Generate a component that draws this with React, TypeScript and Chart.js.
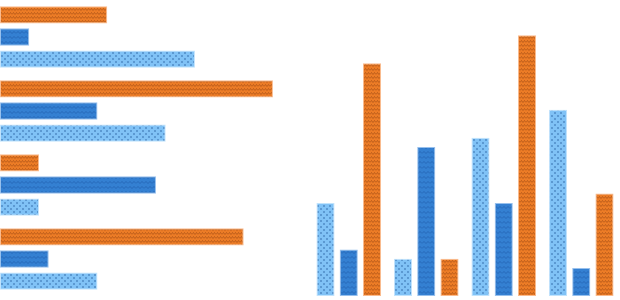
import React, { useEffect, useRef } from "react";
import { Chart, registerables } from "chart.js";

Chart.register(...registerables);

const categories = ["A", "B", "C", "D"];
const lightValues = [10, 4, 17, 20];
const blueValues = [5, 16, 10, 3];
const orangeValues = [25, 4, 28, 11];
const axisMax = 31.8;

function makePattern(kind: string): CanvasPattern | string {
  const c = document.createElement("canvas");
  const ctx = c.getContext("2d")!;
  if (kind === "orange") {
    c.width = 6; c.height = 4;
    ctx.fillStyle = "rgb(236,124,38)";
    ctx.fillRect(0, 0, 6, 4);
    ctx.strokeStyle = "rgba(150,70,20,0.5)";
    ctx.lineWidth = 1;
    ctx.beginPath();
    ctx.moveTo(0, 2.5); ctx.lineTo(1.5, 0.5); ctx.lineTo(3, 2.5); ctx.lineTo(4.5, 0.5); ctx.lineTo(6, 2.5);
    ctx.stroke();
  } else if (kind === "blue") {
    c.width = 8; c.height = 5;
    ctx.fillStyle = "rgb(52,128,210)";
    ctx.fillRect(0, 0, 8, 5);
    ctx.strokeStyle = "rgba(25,80,160,0.5)";
    ctx.lineWidth = 1;
    ctx.beginPath();
    ctx.moveTo(0, 3.5); ctx.lineTo(2, 1.5); ctx.lineTo(4, 3.5); ctx.lineTo(6, 1.5); ctx.lineTo(8, 3.5);
    ctx.stroke();
  } else {
    c.width = 6; c.height = 6;
    ctx.fillStyle = "rgb(128,194,246)";
    ctx.fillRect(0, 0, 6, 6);
    ctx.fillStyle = "rgba(75,135,195,0.7)";
    ctx.fillRect(1, 1, 2, 2);
    ctx.fillRect(4, 4, 2, 2);
  }
  return ctx.createPattern(c, "repeat") || "#888";
}

function useBarChart(ref: React.RefObject<HTMLCanvasElement | null>, horizontal: boolean) {
  useEffect(() => {
    if (!ref.current) return;
    const orange = makePattern("orange");
    const blue = makePattern("blue");
    const light = makePattern("light");
    const dsOrange = {
      label: "Orange",
      data: horizontal ? orangeValues.slice().reverse() : orangeValues,
      backgroundColor: orange,
      borderColor: "rgba(250,180,130,0.9)",
      borderWidth: 1,
      borderSkipped: false as const,
    };
    const dsBlue = {
      label: "Blue",
      data: horizontal ? blueValues.slice().reverse() : blueValues,
      backgroundColor: blue,
      borderColor: "rgba(140,185,235,0.9)",
      borderWidth: 1,
      borderSkipped: false as const,
    };
    const dsLight = {
      label: "Light",
      data: horizontal ? lightValues.slice().reverse() : lightValues,
      backgroundColor: light,
      borderColor: "rgba(190,225,252,0.95)",
      borderWidth: 1,
      borderSkipped: false as const,
    };
    const chart = new Chart(ref.current, {
      type: "bar",
      data: {
        labels: horizontal ? categories.slice().reverse() : categories,
        datasets: horizontal ? [dsOrange, dsBlue, dsLight] : [dsLight, dsBlue, dsOrange],
      },
      options: {
        indexAxis: horizontal ? "y" : "x",
        animation: false,
        responsive: true,
        maintainAspectRatio: false,
        layout: { padding: { bottom: 4 } },
        plugins: { legend: { display: false }, tooltip: { enabled: false } },
        datasets: { bar: { barPercentage: 0.78, categoryPercentage: 0.9 } },
        scales: {
          x: horizontal
            ? { display: false, min: 0, max: axisMax }
            : { display: false },
          y: horizontal
            ? { display: false }
            : { display: false, min: 0, max: axisMax },
        },
      },
    });
    return () => chart.destroy();
  }, [ref, horizontal]);
}

export default function App() {
  const leftRef = useRef<HTMLCanvasElement>(null);
  const rightRef = useRef<HTMLCanvasElement>(null);
  useBarChart(leftRef, true);
  useBarChart(rightRef, false);
  return (
    <div style={{ position: "fixed", left: 0, top: 0, width: 620, height: 300, display: "flex", background: "#fff" }}>
      <div style={{ position: "relative", width: 310, height: 300 }}>
        <canvas ref={leftRef} />
      </div>
      <div style={{ position: "relative", width: 310, height: 300 }}>
        <canvas ref={rightRef} />
      </div>
    </div>
  );
}
